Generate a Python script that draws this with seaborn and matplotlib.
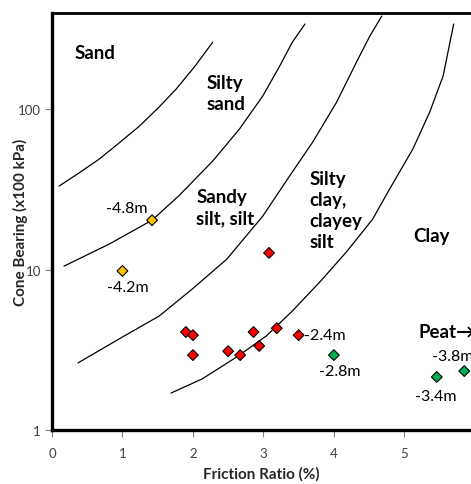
import matplotlib
matplotlib.use("Agg")
import matplotlib.pyplot as plt
import seaborn as sns
import pandas as pd

sns.set_theme(style="white")
plt.rcParams['font.family'] = ['Lato', 'DejaVu Sans']

# ---- data ----
friction_ratio = [1.42, 1.00, 1.90, 2.00, 2.00, 2.50, 2.67, 2.86, 2.94, 3.19, 3.50, 3.08, 4.00, 5.46, 5.85]
cone_bearing   = [20.3, 9.8, 4.08, 3.9, 2.93, 3.1, 2.93, 4.08, 3.34, 4.31, 3.9, 12.7, 2.93, 2.14, 2.33]
group          = ["sand", "sand", "silt", "silt", "silt", "silt", "silt", "silt", "silt", "silt", "silt", "silt",
                  "peat", "peat", "peat"]
point_labels   = {0: "-4.8m", 1: "-4.2m", 10: "-2.4m", 12: "-2.8m", 13: "-3.4m", 14: "-3.8m"}

b1_x = [0.10, 0.38, 0.67, 0.95, 1.24, 1.52, 1.76, 2.02, 2.28]
b1_y = [33.1, 39.9, 48.8, 61.4, 78.3, 103, 133, 183, 261]
b2_x = [0.17, 0.81, 1.42, 1.81, 2.28, 2.66, 2.99, 3.23, 3.41, 3.59]
b2_y = [10.5, 14.4, 20.3, 29.1, 47.4, 75.1, 120.5, 185, 261, 339]
b3_x = [0.37, 0.95, 1.52, 1.99, 2.48, 2.99, 3.37, 3.70, 4.04, 4.32, 4.51, 4.68]
b3_y = [2.62, 3.69, 5.13, 7.56, 11.6, 21.5, 38.2, 62.3, 110.6, 196, 285, 380]
b4_x = [1.69, 2.13, 2.62, 3.04, 3.41, 3.80, 4.18, 4.55, 4.79, 5.12, 5.36, 5.55, 5.70]
b4_y = [1.70, 2.08, 2.85, 3.85, 5.51, 8.36, 12.9, 20.6, 31.7, 56.3, 95.8, 160.6, 339]

zone_labels = ["Sand", "Silty\nsand", "Sandy\nsilt, silt", "Silty\nclay,\nclayey\nsilt", "Clay", "Peat\u2192"]

W, H = 471, 485
fig = plt.figure(figsize=(W / 100, H / 100), dpi=100)
ax = fig.add_axes([52 / W, (H - 431) / H, (W - 52) / W, (431 - 13.5) / H])

# boundaries
for bx, by in [(b1_x, b1_y), (b2_x, b2_y), (b3_x, b3_y), (b4_x, b4_y)]:
    sns.lineplot(x=bx, y=by, ax=ax, sort=False, estimator=None, color="black", linewidth=0.9)

df = pd.DataFrame({"fr": friction_ratio, "qc": cone_bearing, "g": group})
sns.scatterplot(data=df, x="fr", y="qc", hue="g", ax=ax, marker="D", s=30,
                palette={"sand": "#FFC000", "silt": "#FF0000", "peat": "#00B050"},
                edgecolor="black", linewidth=0.8, legend=False, zorder=5)

ax.set_yscale("log")
ax.set_xlim(0, (W - 53) / 70.3)
ax.set_ylim(1, 400)

offsets = {0: (-5, 12, "right"), 1: (5, -16, "center"), 10: (5, 0, "left"),
           12: (6, -16, "center"), 13: (-1, -19, "center"), 14: (-32, 15, "left")}
for i, lab in point_labels.items():
    dx, dy, ha = offsets[i]
    ax.annotate(lab, (friction_ratio[i], cone_bearing[i]), xytext=(dx, dy), textcoords="offset pixels",
                ha=ha, va="center", fontsize=11.5, color="black")

def px2data(px, py):
    return ((px - 53) / 70.3, 10 ** ((431 - py) / 160.5))

zone_pos = [(75, 53), (207, 94), (197, 208), (310, 211), (413, 236), (419, 332)]
for lab, (px, py) in zip(zone_labels, zone_pos):
    x, y = px2data(px, py)
    ax.text(x, y, lab, ha="left", va="center", fontsize=13.5, fontweight="bold",
            color="black", linespacing=1.3)

ax.set_yticks([1, 10, 100])
ax.set_yticklabels(["1", "10", "100"])
ax.set_xticks([0, 1, 2, 3, 4, 5])
ax.minorticks_off()
ax.tick_params(axis="both", which="major", direction="out", length=5, width=0.8,
               color="#808080", labelsize=9.5, labelcolor="#404040", pad=3)
ax.tick_params(axis="x", bottom=True, pad=7)
ax.tick_params(axis="y", left=True)

for side in ["left", "bottom"]:
    ax.spines[side].set_linewidth(2.4)
    ax.spines[side].set_color("black")
ax.spines["top"].set_linewidth(2.0)
ax.spines["top"].set_color("black")
ax.spines["right"].set_visible(False)

ax.set_xlabel("Friction Ratio (%)", fontsize=11, fontweight="bold", labelpad=5)
ax.set_ylabel("Cone Bearing (x100 kPa)", fontsize=11, fontweight="bold")
ax.yaxis.set_label_coords(-(52 - 28) / 419, 0.5)
ax.grid(False)

fig.savefig("out.png", dpi=100)
